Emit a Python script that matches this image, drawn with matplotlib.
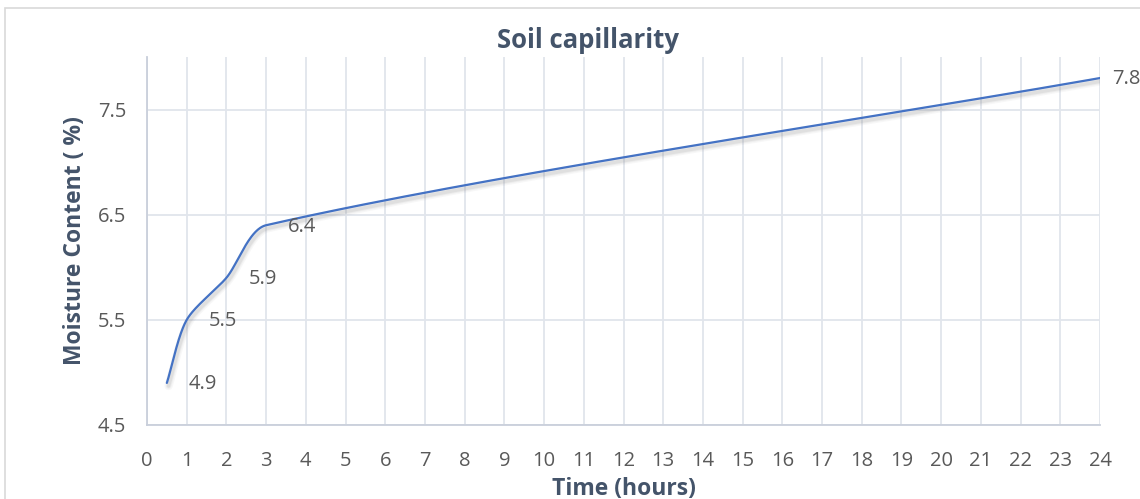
import numpy as np
import matplotlib.pyplot as plt
import matplotlib.patheffects as pe
from matplotlib.patches import Rectangle

# data
hours = [0.5, 1, 2, 3, 24]
moisture = [4.9, 5.5, 5.9, 6.4, 7.8]
labels = ['4.9', '5.5', '5.9', '6.4', '7.8']

plt.rcParams['font.family'] = ['Open Sans', 'DejaVu Sans']

fig = plt.figure(figsize=(11.4, 4.99), dpi=100)
ax = fig.add_axes([147 / 1140, 1 - 425 / 499, 953 / 1140, 368 / 499])
ax.set_xlim(0, 24)
ax.set_ylim(4.5, 8.0)

# chart border
fig.patches.append(Rectangle((5 / 1140, -0.1), 1.2, 1 - 8 / 499 + 0.1, transform=fig.transFigure,
                             fill=False, edgecolor='#D9D9D9', linewidth=1.2))


def smooth(xs, ys, n=60):
    # Excel-like smoothed line built in display space
    pts = ax.transData.transform(np.column_stack([xs, ys]))
    m = len(pts)
    dirs = []
    for i in range(m):
        a = pts[max(i - 1, 0)]
        b = pts[min(i + 1, m - 1)]
        d = b - a
        dirs.append(d / np.linalg.norm(d))
    out = []
    t = np.linspace(0, 1, n)[:, None]
    for i in range(m - 1):
        p0, p3 = pts[i], pts[i + 1]
        L = np.linalg.norm(p3 - p0) / 3
        p1 = p0 + dirs[i] * L * 0.8
        p2 = p3 - dirs[i + 1] * L * 0.8
        seg = ((1 - t) ** 3) * p0 + 3 * ((1 - t) ** 2) * t * p1 + 3 * (1 - t) * t ** 2 * p2 + t ** 3 * p3
        out.append(seg)
    curve = ax.transData.inverted().transform(np.vstack(out))
    return curve[:, 0], curve[:, 1]


cx, cy = smooth(hours, moisture)
shadows = [pe.SimpleLineShadow(offset=(1.2, -2.2), shadow_color='#808080', alpha=a, linewidth=w)
           for a, w in [(0.06, 6), (0.08, 4), (0.12, 2.5)]]
ax.plot(cx, cy, color='#4472C4', linewidth=1.6, solid_capstyle='round',
        path_effects=shadows + [pe.Normal()])

for x, y, s in zip(hours, moisture, labels):
    off = 9 if x == 24 else 16
    ax.annotate(s, (x, y), xytext=(off, -1), textcoords='offset points', ha='left', va='center',
                fontsize=14.5, color='#595959', annotation_clip=False)

ax.set_xticks(range(0, 25))
ax.set_yticks([4.5, 5.5, 6.5, 7.5])
ax.set_yticklabels(['4.5', '5.5', '6.5', '7.5'])
ax.grid(True, color='#E1E5EC', linewidth=1.3)
ax.set_axisbelow(True)
ax.tick_params(length=0, labelsize=14.5, labelcolor='#595959')
ax.tick_params(axis='x', pad=19)
ax.tick_params(axis='y', pad=15)
for side in ['top', 'right']:
    ax.spines[side].set_visible(False)
for side in ['left', 'bottom']:
    ax.spines[side].set_color('#C9CFDB')
    ax.spines[side].set_linewidth(1.3)

ax.set_xlabel('Time (hours)', fontsize=16.5, fontweight='bold', color='#44546A', labelpad=4)
ax.set_ylabel('Moisture Content ( %)', fontsize=16.5, fontweight='bold', color='#44546A', labelpad=8)
fig.text(588 / 1140, 1 - 40 / 499, 'Soil capillarity', ha='center', va='center',
         fontsize=18.5, fontweight='bold', color='#44546A')

fig.savefig('out.png', dpi=100)
